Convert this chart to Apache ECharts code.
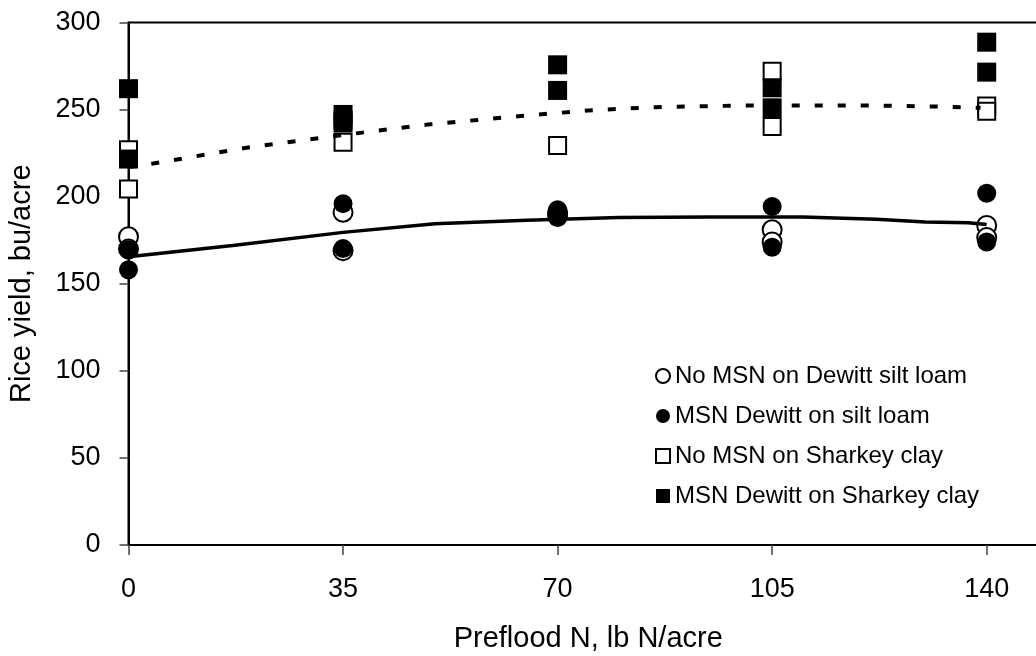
<!DOCTYPE html>
<html>
<head>
<meta charset="utf-8">
<script src="https://cdn.jsdelivr.net/npm/echarts@6/dist/echarts.min.js"></script>
<style>
  html, body { margin: 0; padding: 0; background: #fff; }
  #chart { width: 1036px; height: 656px; }
</style>
</head>
<body>
<div id="chart"></div>
<script>
// 数据
var xNames = [0, 35, 70, 105, 140];

// 每个施氮量下的重复点
var noMsnSiltX = [0, 0, 35, 35, 70, 70, 105, 105, 140, 140];
var noMsnSiltY = [177, 170, 191, 169, 191, 189, 181, 174, 183.5, 176.5];

var msnSiltX = [0, 0, 35, 35, 70, 70, 105, 105, 140, 140];
var msnSiltY = [169.5, 158, 196, 170.2, 192.5, 188, 194.4, 171, 202, 174];

var noMsnClayX = [0, 0, 35, 35, 70, 105, 105, 140, 140];
var noMsnClayY = [227, 204.4, 244, 231.2, 229.4, 272, 240.3, 252, 249];

var msnClayX = [0, 0, 35, 35, 70, 70, 105, 105, 140, 140];
var msnClayY = [262, 221.6, 247.2, 242.3, 275.7, 261, 262.5, 251, 288.7, 271.5];

// 趋势线
var siltTrendX = [0, 17, 35, 50, 65, 80, 95, 110, 122, 130, 137, 140];
var siltTrendY = [165.5, 172, 179.5, 184.5, 186.5, 188, 188.3, 188.3, 187, 185.5, 185, 184];

var clayTrendX = [0, 4, 19, 34, 49, 64, 75, 86, 101, 120, 131, 139];
var clayTrendY = [217, 219, 228, 235, 241.5, 246.3, 249.5, 251.4, 252.4, 252.4, 251.8, 251];

var seriesNames = ['No MSN on Dewitt silt loam', 'MSN Dewitt on silt loam', 'No MSN on Sharkey clay', 'MSN Dewitt on Sharkey clay'];

function pairs(xs, ys) {
    var out = [];
    for (let i = 0; i < xs.length; i++) {
        out.push([xs[i], ys[i]]);
    }
    return out;
}

var myChart = echarts.init(document.getElementById('chart'));

var font = 'Liberation Sans, Arial, sans-serif';

var option = {
    animation: false,
    backgroundColor: '#fff',
    grid: {
        left: 128.5,
        top: 22.5,
        bottom: 111,
        right: -12,
        outerBoundsMode: 'none',
        containLabel: false,
        show: true,
        borderColor: '#000',
        borderWidth: 2
    },
    legend: {
        orient: 'vertical',
        left: 650,
        top: 358,
        padding: 5,
        itemWidth: 14,
        itemHeight: 14,
        itemGap: 14,
        data: seriesNames,
        textStyle: {
            fontFamily: font,
            fontSize: 24,
            lineHeight: 26,
            color: '#000'
        }
    },
    xAxis: {
        type: 'value',
        min: 0,
        max: 150,
        interval: 35,
        name: 'Preflood N, lb N/acre',
        nameLocation: 'middle',
        nameGap: 79,
        nameTextStyle: {
            fontFamily: font,
            fontSize: 29,
            color: '#000'
        },
        axisLine: { show: true, lineStyle: { color: '#000', width: 2 } },
        axisTick: { show: true, inside: false, length: 10, lineStyle: { color: '#444', width: 1.5 } },
        axisLabel: {
            margin: 31,
            fontFamily: font,
            fontSize: 27,
            color: '#000',
            showMaxLabel: false,
            formatter: function (v) {
                return xNames.indexOf(v) >= 0 ? String(v) : '';
            }
        },
        splitLine: { show: false }
    },
    yAxis: {
        type: 'value',
        min: 0,
        max: 300,
        interval: 50,
        name: 'Rice yield, bu/acre',
        nameLocation: 'middle',
        nameGap: 92,
        nameTextStyle: {
            fontFamily: font,
            fontSize: 29,
            color: '#000'
        },
        axisLine: { show: true, lineStyle: { color: '#000', width: 2 } },
        axisTick: { show: true, inside: false, length: 9, lineStyle: { color: '#444', width: 1.5 } },
        axisLabel: {
            margin: 28,
            fontFamily: font,
            fontSize: 27,
            color: '#000'
        },
        splitLine: { show: false }
    },
    series: [
        {
            name: seriesNames[0],
            type: 'scatter',
            symbol: 'circle',
            symbolSize: 19,
            itemStyle: { color: '#fff', borderColor: '#000', borderWidth: 2, opacity: 1 },
            data: pairs(noMsnSiltX, noMsnSiltY),
            z: 2
        },
        {
            name: seriesNames[1],
            type: 'scatter',
            symbol: 'circle',
            symbolSize: 19,
            itemStyle: { color: '#000', opacity: 1 },
            data: pairs(msnSiltX, msnSiltY),
            z: 3
        },
        {
            name: seriesNames[2],
            type: 'scatter',
            symbol: 'rect',
            symbolSize: 17,
            itemStyle: { color: '#fff', borderColor: '#000', borderWidth: 2, opacity: 1 },
            data: pairs(noMsnClayX, noMsnClayY),
            z: 4
        },
        {
            name: seriesNames[3],
            type: 'scatter',
            symbol: 'rect',
            symbolSize: 19,
            itemStyle: { color: '#000', opacity: 1 },
            data: pairs(msnClayX, msnClayY),
            z: 5
        },
        {
            name: 'silt trend',
            type: 'line',
            showSymbol: false,
            symbol: 'none',
            lineStyle: { color: '#000', width: 3.5 },
            data: pairs(siltTrendX, siltTrendY),
            z: 6
        },
        {
            name: 'clay trend',
            type: 'line',
            showSymbol: false,
            symbol: 'none',
            lineStyle: { color: '#000', width: 4, type: [8, 15] },
            data: pairs(clayTrendX, clayTrendY),
            z: 6
        }
    ]
};

myChart.setOption(option);

window.addEventListener('resize', () => {
    myChart.resize();
});
</script>
</body>
</html>
